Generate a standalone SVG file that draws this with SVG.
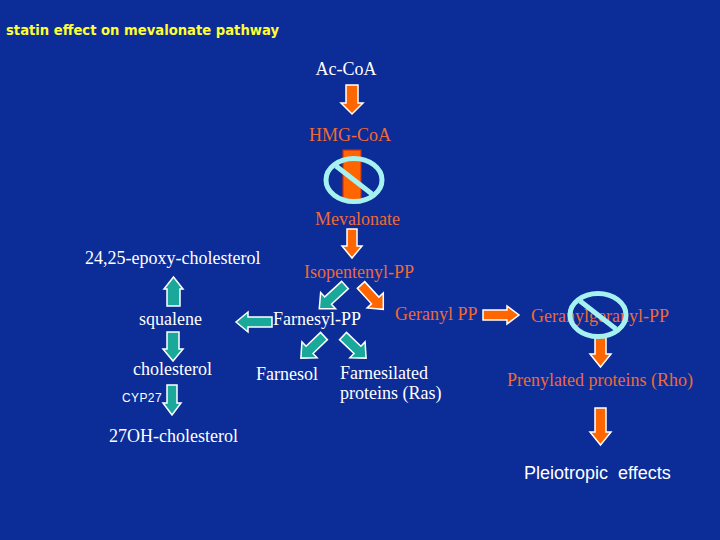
<svg xmlns="http://www.w3.org/2000/svg" width="720" height="540" viewBox="0 0 720 540">
<style>
.t{font-family:"Liberation Serif","Times New Roman",serif;font-size:18px}
.w{fill:#ffffff}
.o{fill:#EE6A34}
.s{font-family:"Liberation Sans",Arial,sans-serif}
.ao{fill:#FF6600;stroke:#ffffff;stroke-width:1.5;stroke-linejoin:miter}
.at{fill:#1AA89A;stroke:#ffffff;stroke-width:1.5;stroke-linejoin:miter}
.no{fill:none;stroke:#A6F2F0;stroke-width:5}
</style>
<rect width="720" height="540" fill="#0C2C98"/>
<text x="6" y="35" font-family="'DejaVu Sans',sans-serif" font-weight="bold" font-size="14.5" fill="#FFFF33" textLength="273" lengthAdjust="spacingAndGlyphs">statin effect on mevalonate pathway</text>

<g id="connectors">
  <path class="ao" d="M346,85 H358 V103 H363 L352,114 L341,103 H346 Z"/>
  <rect x="343" y="150" width="18" height="50" fill="#FF6600" stroke="#D02C10" stroke-width="1.2"/>
  <path class="ao" d="M347,229 H357 V246 H362 L352,258 L342,246 H347 Z"/>
  <path class="at" transform="translate(345,285) rotate(137.3)" d="M0,-5 H23 V-11 L35,0 L23,11 V5 H0 Z"/>
  <path class="ao" transform="translate(361,285) rotate(47.5)" d="M0,-5 H21 V-11 L33,0 L21,11 V5 H0 Z"/>
  <path class="at" transform="translate(272,322) rotate(180)" d="M0,-5 H24 V-10 L36,0 L24,10 V5 H0 Z"/>
  <path class="at" transform="translate(324,336) rotate(136.3)" d="M0,-5 H20 V-11 L32,0 L20,11 V5 H0 Z"/>
  <path class="at" transform="translate(343,336) rotate(43.7)" d="M0,-5 H20 V-11 L32,0 L20,11 V5 H0 Z"/>
  <path class="ao" d="M483,310 H507 V306 L519,315 L507,324 V320 H483 Z"/>
  <path class="ao" d="M595,337 H606 V354 L611,354 L600.5,367 L590,354 H595 Z"/>
  <path class="ao" d="M595,408 H606 V432 H611 L600.5,445 L590,432 H595 Z"/>
  <path class="at" d="M167,306 V289 H164 L173.5,277 L183,289 H180 V306 Z"/>
  <path class="at" d="M167,332 V349 H163 L173,361 L183,349 H179 V332 Z"/>
  <path class="at" d="M167,385 V403 H163 L172,415 L181,403 H177 V385 Z"/>
</g>

<g id="ac-coa"><text class="t w" x="346" y="75" text-anchor="middle">Ac-CoA</text></g>
<g id="hmg-coa"><text class="t o" x="350" y="141" text-anchor="middle">HMG-CoA</text></g>
<g id="mevalonate"><text class="t o" x="357.5" y="225" text-anchor="middle">Mevalonate</text></g>
<g id="isopentenyl-pp"><text class="t o" x="359" y="278" text-anchor="middle">Isopentenyl-PP</text></g>
<g id="farnesyl-pp"><text class="t w" x="273" y="325">Farnesyl-PP</text></g>
<g id="geranyl-pp"><text class="t o" x="395" y="320">Geranyl PP</text></g>
<g id="geranylgeranyl-pp"><text class="t o" x="531" y="322">Geranylgeranyl-PP</text></g>
<g id="farnesol"><text class="t w" x="256" y="380">Farnesol</text></g>
<g id="farnesilated"><text class="t w" x="340" y="379">Farnesilated</text><text class="t w" x="340" y="399">proteins (Ras)</text></g>
<g id="prenylated"><text class="t o" x="507" y="386">Prenylated proteins (Rho)</text></g>
<g id="pleiotropic"><text class="s w" x="524" y="479" font-size="18" xml:space="preserve">Pleiotropic  effects</text></g>
<g id="epoxy"><text class="t w" x="85" y="264">24,25-epoxy-cholesterol</text></g>
<g id="squalene"><text class="t w" x="139" y="325">squalene</text></g>
<g id="cholesterol"><text class="t w" x="133" y="375">cholesterol</text></g>
<g id="cyp27"><text class="s w" x="122" y="402" font-size="12" letter-spacing="0.4">CYP27</text></g>
<g id="oh-cholesterol"><text class="t w" x="109" y="442">27OH-cholesterol</text></g>

<g id="statin-block-1">
  <ellipse class="no" cx="354" cy="180" rx="28" ry="21.5"/>
  <line class="no" x1="336" y1="166" x2="372" y2="194"/>
</g>
<g id="statin-block-2">
  <ellipse class="no" cx="598" cy="315" rx="28" ry="21.5"/>
  <line class="no" x1="580" y1="301" x2="616" y2="329"/>
</g>
</svg>
